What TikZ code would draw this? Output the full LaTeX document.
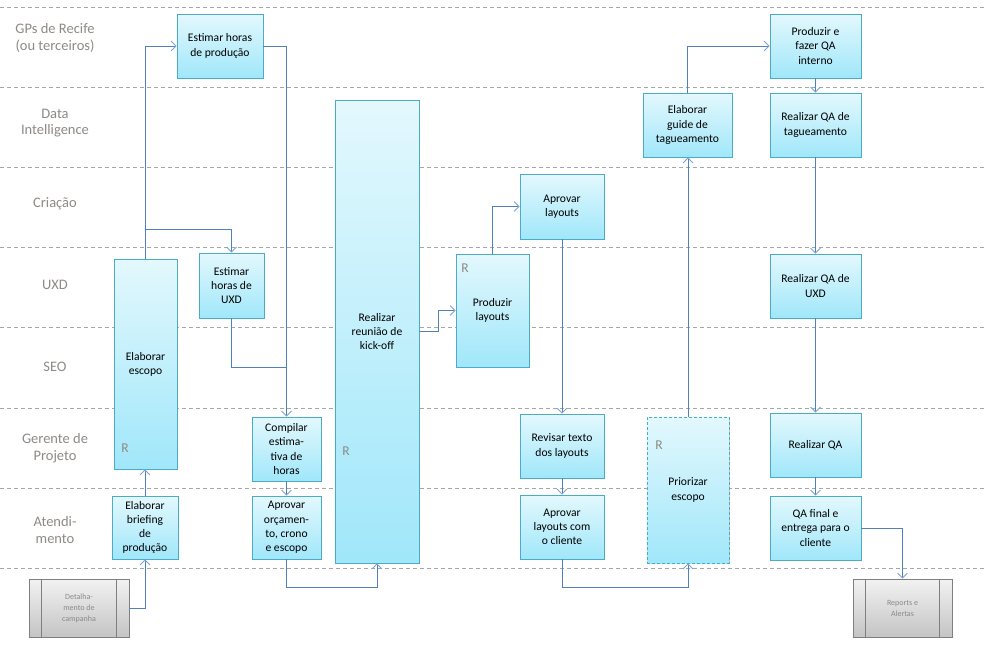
\documentclass[tikz,border=0pt]{standalone}
\usepackage{fontspec}
\setmainfont{Carlito}
\usetikzlibrary{arrows.meta,shadows}
\definecolor{laneline}{HTML}{A6A6A6}
\definecolor{lanetext}{HTML}{8E8A86}
\definecolor{boxborder}{HTML}{4BACC6}
\definecolor{boxtop}{HTML}{E3F8FD}
\definecolor{boxbot}{HTML}{A0E7FA}
\definecolor{connc}{HTML}{4F81BD}
\definecolor{tipc}{HTML}{7EA3D6}
\definecolor{graytop}{HTML}{F2F2F2}
\definecolor{graybot}{HTML}{C4C4C4}
\definecolor{grayborder}{HTML}{7F7F7F}
\definecolor{graytext}{HTML}{8A8A8A}
\begin{document}
\begin{tikzpicture}[x=1pt,y=-1pt,
  task/.style={draw=boxborder, line width=0.8pt, top color=boxtop, bottom color=boxbot,
    align=center, font=\fontsize{11.6}{14.2}\selectfont, inner sep=2pt,
    drop shadow={shadow xshift=1.3pt, shadow yshift=-1.3pt, opacity=0.22, fill=black}},
  grayproc/.style={draw=grayborder, line width=0.8pt, top color=graytop, bottom color=graybot,
    align=center, font=\fontsize{8}{11}\selectfont, text=graytext, inner sep=1pt,
    drop shadow={shadow xshift=1.3pt, shadow yshift=-1.3pt, opacity=0.22, fill=black}},
  lanelabel/.style={align=center, text=lanetext, font=\fontsize{14.5}{16.5}\selectfont},
  rmark/.style={text=lanetext, font=\fontsize{13.5}{14}\selectfont, inner sep=0pt},
  laneline/.style={draw=laneline, line width=0.7pt, dash pattern=on 4pt off 3pt},
  conn/.style={draw=connc, line width=0.8pt, -{Straight Barb[length=5pt,width=10pt,color=tipc]}},
  plain/.style={draw=connc, line width=0.8pt},
  sz/.style 2 args={minimum width=#1pt, minimum height=#2pt}
]
\useasboundingbox (0,0) rectangle (990,646);
\fill[white] (0,0) rectangle (990,646);

% lane separators
\foreach \yy/\nm in {7/l0,87/l1,167/l2,247/l3,327/l4,408/l5,488/l6,568/l7}{
  \coordinate (\nm a) at (0,\yy);
  \coordinate (\nm b) at (986,\yy);
  \draw[laneline] (\nm a) -- (\nm b);
}

% lane labels
\node[lanelabel] (lgp)  at (55,38)  {GPs de Recife\\(ou terceiros)};
\node[lanelabel] (ldi)  at (55,123) {Data\\Intelligence};
\node[lanelabel] (lcr)  at (55,204) {Criação};
\node[lanelabel] (luxd) at (55,285) {UXD};
\node[lanelabel] (lseo) at (55,367) {SEO};
\node[lanelabel] (lgp2) at (55,448) {Gerente de\\Projeto};
\node[lanelabel] (lat)  at (55,530) {Atendi-\\mento};

% tasks
\node[task, sz={86}{64}]  (prod)     at (220,46)     {Estimar horas\\de produção};
\node[task, sz={65}{65}]  (uxd)      at (231.5,285.5){Estimar\\horas de\\UXD};
\node[task, sz={63}{210}] (escopo)   at (145.5,364)  {Elaborar\\escopo};
\node[task, sz={69}{64}]  (compilar) at (286.5,449)  {Compilar\\estima-\\tiva de\\horas};
\node[task, sz={69}{63}]  (orcamento) at (286.5,527.5){Aprovar\\orçamen-\\to, crono\\e escopo};
\node[task, sz={66}{63}]  (briefing) at (145,527.5)  {Elaborar\\briefing\\de\\produção};
\node[task, sz={84}{463}] (kickoff)  at (377,331.5)  {Realizar\\reunião de\\kick-off};
\node[task, sz={73}{113}] (produzir) at (492.5,310.5){Produzir\\layouts};
\node[task, sz={84}{65}]  (aprovar)  at (562,206.5)  {Aprovar\\layouts};
\node[task, sz={84}{64}]  (revisar)  at (562,446)    {Revisar texto\\dos layouts};
\node[task, sz={84}{64}]  (aprovcli) at (562,527)    {Aprovar\\layouts com\\o cliente};
\node[task, sz={89}{64}]  (guide)    at (687.5,125)  {Elaborar\\guide de\\tagueamento};
\node[task, sz={91}{64}]  (prodqa)   at (815.5,46)   {Produzir e\\fazer QA\\interno};
\node[task, sz={91}{64}]  (qatag)    at (815.5,125)  {Realizar QA de\\tagueamento};
\node[task, sz={91}{64}]  (qauxd)    at (815.5,286)  {Realizar QA de\\UXD};
\node[task, sz={82}{146}, dash pattern=on 3pt off 2pt] (priorizar) at (688,490) {Priorizar\\escopo};
\node[task, sz={91}{64}]  (realqa)   at (815.5,445)  {Realizar QA};
\node[task, sz={91}{64}]  (qafinal)  at (815.5,528)  {QA final e\\entrega para o\\cliente};

% gray process boxes
\node[grayproc, sz={100}{58}] (detalh)  at (79,608)    {Detalha-\\mento de\\campanha};
\node[grayproc, sz={99}{58}]  (reports) at (902.5,608) {Reports e\\Alertas};
\foreach \n/\d in {detalh/13pt, reports/13pt}{
  \draw[grayborder, line width=0.8pt] ([xshift=\d]\n.north west) -- ([xshift=\d]\n.south west);
  \draw[grayborder, line width=0.8pt] ([xshift=-\d]\n.north east) -- ([xshift=-\d]\n.south east);
}

% R marks
\node[rmark] (r1) at (125,448) {R};
\node[rmark] (r2) at (346,451) {R};
\node[rmark] (r3) at (465,268) {R};
\node[rmark] (r4) at (659,445) {R};

% helper coordinates
\coordinate (b1) at (145.5,229);
\coordinate (j1) at (286.5,367);
\coordinate (c1) at (286.5,587);
\coordinate (c2) at (562,587);
\coordinate (k1) at (438,331.5);

% connectors
\draw[conn] (escopo.north) |- (prod.west);
\draw[conn] (b1) -| (uxd.north);
\draw[conn] (prod.east) -| (compilar.north);
\draw[plain] (uxd.south) |- (j1);
\draw[conn] (compilar.south) -- (orcamento.north);
\draw[conn] (orcamento.south) -- (c1) -| (kickoff.south);
\draw[conn] (detalh.east) -| (briefing.south);
\draw[conn] (briefing.north) -- (briefing.north |- escopo.south);
\draw[conn] (kickoff.east) -- (k1) |- (produzir.west);
\draw[conn] (produzir.north) |- (aprovar.west);
\draw[conn] (aprovar.south) -- (revisar.north);
\draw[conn] (revisar.south) -- (aprovcli.north);
\draw[conn] (aprovcli.south) -- (c2) -| (priorizar.south);
\draw[conn] (priorizar.north) -- (priorizar.north |- guide.south);
\draw[conn] (guide.north) |- (prodqa.west);
\draw[conn] (prodqa.south) -- (qatag.north);
\draw[conn] (qatag.south) -- (qauxd.north);
\draw[conn] (qauxd.south) -- (realqa.north);
\draw[conn] (realqa.south) -- (qafinal.north);
\draw[conn] (qafinal.east) -| (reports.north);
\end{tikzpicture}
\end{document}
